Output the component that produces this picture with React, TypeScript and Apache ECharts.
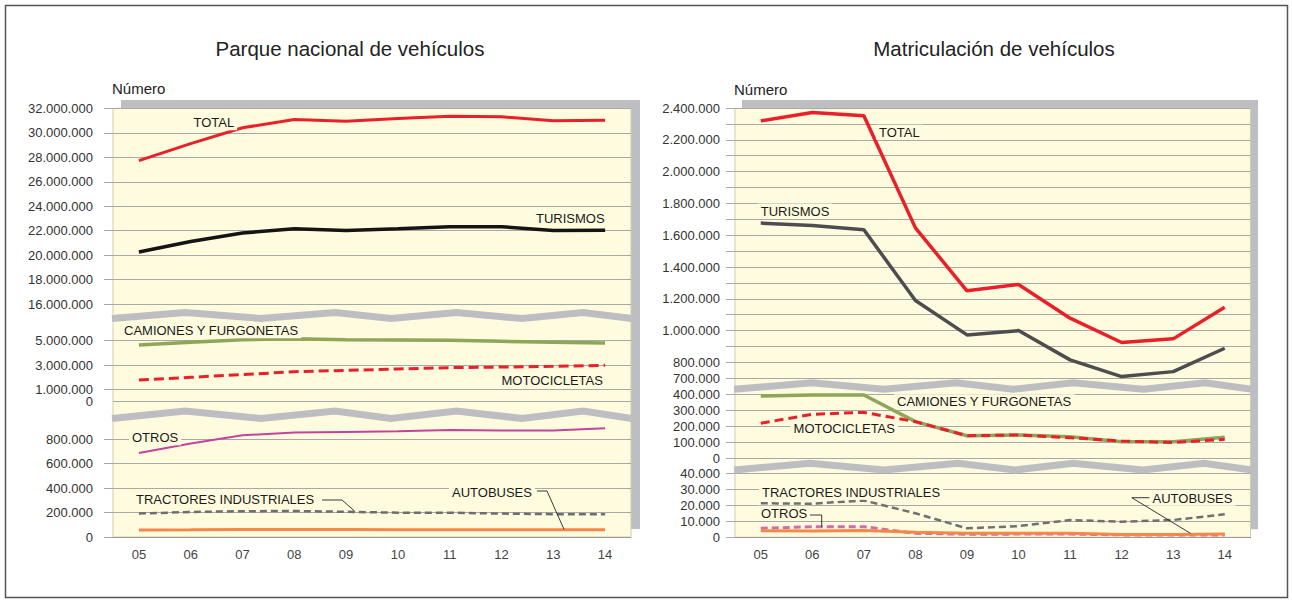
import React, { useEffect, useRef } from 'react';
import * as echarts from 'echarts';

// ---------- DATA ----------
const YEARS = ['05', '06', '07', '08', '09', '10', '11', '12', '13', '14'];

// Parque nacional de vehículos
const PARQUE_TOTAL = [27740000, 29130000, 30420000, 31100000, 30960000, 31180000, 31370000, 31320000, 31000000, 31040000];
const PARQUE_TURISMOS = [20250000, 21120000, 21810000, 22160000, 22020000, 22150000, 22330000, 22330000, 22020000, 22030000];
const PARQUE_CAMIONES = [4650000, 4870000, 5080000, 5160000, 5080000, 5060000, 5030000, 4950000, 4870000, 4810000];
const PARQUE_MOTOS = [1780000, 2000000, 2220000, 2460000, 2570000, 2680000, 2790000, 2840000, 2900000, 2980000];
const PARQUE_OTROS = [688000, 765000, 833000, 855000, 860000, 865000, 876000, 873000, 873000, 890000];
const PARQUE_TRACTORES = [192000, 205000, 211000, 213000, 206000, 199000, 199000, 192000, 187000, 187000];
const PARQUE_AUTOBUSES = [58000, 59000, 61000, 61000, 61000, 60000, 60000, 60000, 60000, 59000];

// Matriculación de vehículos
const MATRIC_TOTAL = [2319000, 2372000, 2351000, 1646000, 1250000, 1290000, 1078000, 925000, 948000, 1147000];
const MATRIC_TURISMOS = [1676000, 1661000, 1634000, 1189000, 973000, 1000000, 816000, 711000, 742000, 889000];
const MATRIC_CAMIONES = [389000, 396000, 396000, 229000, 141000, 146000, 135000, 104000, 104000, 131000];
const MATRIC_MOTOS = [219000, 275000, 287000, 229000, 141000, 146000, 129000, 108000, 98000, 119000];
const MATRIC_TRACTORES = [21300, 21000, 23000, 15000, 5600, 7000, 10800, 9700, 10800, 14400];
const MATRIC_OTROS = [5600, 6600, 6600, 2500, 1900, 2000, 2000, 1500, 1500, 1500];
const MATRIC_AUTOBUSES = [4100, 4000, 4200, 3200, 2500, 2500, 2600, 1800, 1800, 2000];

// Axis ticks
const PARQUE_MID_TICKS = [0, 1000000, 3000000, 5000000];
const PARQUE_MID_ZERO = [0];

// ---------- STYLE ----------
const FONT = "'Liberation Sans', Arial, Helvetica, sans-serif";
const GRID_C = '#a8a8a8';
const YELLOW = '#fffbdf';
const SHADOW = '#bdbec2';
const RED = '#e8202a';

const fmt = (v: number) => Math.round(v).toString().replace(/\B(?=(\d{3})+(?!\d))/g, '.');

const GRIDS = [
  { left: 113, width: 518, top: 108.5, height: 195.5 }, // L0 16M-32M
  { left: 113, width: 518, top: 340.7, height: 61 }, // L1 0-5M
  { left: 113, width: 518, top: 439.3, height: 97.7 }, // L2 0-800k
  { left: 735, width: 515.5, top: 108, height: 270.3 }, // R0 700k-2.4M
  { left: 735, width: 515.5, top: 394.3, height: 64 }, // R1 0-400k
  { left: 735, width: 515.5, top: 473.3, height: 64 }, // R2 0-40k
];

function yAxis(gi: number, min: number, max: number, interval: number | undefined, margin: number, extra: any = {}) {
  const ax: any = {
    type: 'value',
    gridIndex: gi,
    position: 'left',
    offset: 0,
    min,
    max,
    axisLine: { show: false },
    axisTick: { show: true, length: 9, lineStyle: { color: GRID_C, width: 1 } },
    axisLabel: {
      color: '#333',
      fontSize: 13,
      fontFamily: FONT,
      margin,
      formatter: fmt,
      hideOverlap: false,
      showMinLabel: true,
      showMaxLabel: true,
    },
    splitLine: { show: true, lineStyle: { color: GRID_C, width: 1 } },
  };
  if (interval !== undefined) ax.interval = interval;
  if (extra.axisLabel) ax.axisLabel = { ...ax.axisLabel, ...extra.axisLabel };
  if (extra.axisTick) ax.axisTick = { ...ax.axisTick, ...extra.axisTick };
  if (extra.splitLine) ax.splitLine = { ...ax.splitLine, ...extra.splitLine };
  return ax;
}

function xAxis(gi: number, visible: boolean) {
  if (!visible) return { type: 'category', gridIndex: gi, data: YEARS, boundaryGap: true, show: false };
  return {
    type: 'category',
    gridIndex: gi,
    data: YEARS,
    boundaryGap: true,
    axisLine: { show: true, lineStyle: { color: '#9a9a9a', width: 1 } },
    axisTick: { show: false },
    axisLabel: { color: '#444', fontSize: 13, fontFamily: FONT, margin: 11 },
    splitLine: { show: false },
  };
}

function line(name: string, data: number[], gi: number, color: string, width: number, dash?: number[]) {
  return {
    type: 'line',
    name,
    data,
    xAxisIndex: gi,
    yAxisIndex: gi,
    symbol: 'none',
    showSymbol: false,
    clip: false,
    silent: true,
    z: 3,
    lineStyle: { color, width, type: dash ? dash : 'solid', cap: 'butt' },
  };
}

function label(text: string, x: number, y: number, z = 20) {
  return {
    type: 'text',
    z,
    silent: true,
    style: {
      text,
      x: x - 3,
      y,
      fill: '#1a1a1a',
      font: `13px ${FONT}`,
      align: 'left',
      verticalAlign: 'middle',
      backgroundColor: YELLOW,
      padding: [1, 3, 1, 3],
    },
  };
}

function leader(points: number[][]) {
  return {
    type: 'polyline',
    z: 21,
    silent: true,
    shape: { points },
    style: { stroke: '#222', lineWidth: 0.9, fill: 'none' },
  };
}

function zigzag(points: number[][]) {
  return {
    type: 'polyline',
    z: 15,
    silent: true,
    shape: { points },
    style: { stroke: SHADOW, lineWidth: 7, fill: 'none', lineJoin: 'miter' },
  };
}

export default function App() {
  const ref = useRef<HTMLDivElement>(null);

  useEffect(() => {
    if (!ref.current) return;
    const chart = echarts.init(ref.current, undefined, { renderer: 'svg' });

    const option: any = {
      animation: false,
      backgroundColor: '#ffffff',
      textStyle: { fontFamily: FONT },
      grid: GRIDS.map((g) => ({ ...g, containLabel: false })),
      xAxis: [xAxis(0, false), xAxis(1, false), xAxis(2, true), xAxis(3, false), xAxis(4, false), xAxis(5, true)],
      yAxis: [
        yAxis(0, 16000000, 32000000, 2000000, 20),
        yAxis(1, 0, 5000000, undefined, 20, {
          axisLabel: { customValues: PARQUE_MID_TICKS, showMinLabel: false },
          axisTick: { customValues: PARQUE_MID_TICKS },
        }),
        yAxis(2, 0, 800000, 200000, 20),
        yAxis(3, 700000, 2400000, 100000, 15, {
          axisLabel: { formatter: (v: number) => (v % 200000 === 0 || v === 700000 ? fmt(v) : '') },
        }),
        yAxis(4, 0, 400000, 100000, 15),
        yAxis(5, 0, 40000, 10000, 15),
        // extra axis on the middle-left grid carrying only the "0" label
        yAxis(1, 0, 5000000, undefined, 20, {
          axisLabel: { customValues: PARQUE_MID_ZERO },
          axisTick: { customValues: PARQUE_MID_ZERO, show: false },
          splitLine: { show: false },
        }),
      ],
      series: [
        line('TOTAL', PARQUE_TOTAL, 0, RED, 3),
        line('TURISMOS', PARQUE_TURISMOS, 0, '#141414', 3.5),
        line('CAMIONES Y FURGONETAS', PARQUE_CAMIONES, 1, '#8fa55a', 3.5),
        line('MOTOCICLETAS', PARQUE_MOTOS, 1, RED, 3, [10, 5]),
        line('OTROS', PARQUE_OTROS, 2, '#c2459b', 2),
        line('TRACTORES INDUSTRIALES', PARQUE_TRACTORES, 2, '#6e6e6e', 2.5, [7, 4]),
        line('AUTOBUSES', PARQUE_AUTOBUSES, 2, '#f5874a', 3),

        line('TOTAL', MATRIC_TOTAL, 3, RED, 3.5),
        line('TURISMOS', MATRIC_TURISMOS, 3, '#4d4d4f', 3.5),
        line('CAMIONES Y FURGONETAS', MATRIC_CAMIONES, 4, '#8fa55a', 3.5),
        line('MOTOCICLETAS', MATRIC_MOTOS, 4, RED, 3, [9, 5]),
        line('TRACTORES INDUSTRIALES', MATRIC_TRACTORES, 5, '#707070', 2.5, [7, 4]),
        line('OTROS', MATRIC_OTROS, 5, '#cf6ea5', 3, [7, 4]),
        line('AUTOBUSES', MATRIC_AUTOBUSES, 5, '#f5874a', 3),
      ],
      graphic: [
        // outer frame
        { type: 'rect', z: -20, silent: true, shape: { x: 5.5, y: 5.5, width: 1282, height: 592 }, style: { fill: '#fff', stroke: '#555', lineWidth: 1.5 } },
        // shadows
        { type: 'rect', z: -10, silent: true, shape: { x: 121, y: 100, width: 519, height: 429 }, style: { fill: SHADOW } },
        { type: 'rect', z: -10, silent: true, shape: { x: 742, y: 100, width: 516, height: 429.3 }, style: { fill: SHADOW } },
        // plot backgrounds
        { type: 'rect', z: -5, silent: true, shape: { x: 113, y: 108.3, width: 518, height: 428.7 }, style: { fill: YELLOW, stroke: '#d2cdab', lineWidth: 1 } },
        { type: 'rect', z: -5, silent: true, shape: { x: 735, y: 108.3, width: 515.5, height: 429 }, style: { fill: YELLOW, stroke: '#d2cdab', lineWidth: 1 } },
        // titles
        { type: 'text', z: 20, silent: true, style: { text: 'Parque nacional de vehículos', x: 350, y: 48.5, fill: '#222', font: `20.5px ${FONT}`, align: 'center', verticalAlign: 'middle' } },
        { type: 'text', z: 20, silent: true, style: { text: 'Matriculación de vehículos', x: 994, y: 48.5, fill: '#222', font: `20.5px ${FONT}`, align: 'center', verticalAlign: 'middle' } },
        { type: 'text', z: 20, silent: true, style: { text: 'Número', x: 112, y: 88.5, fill: '#222', font: `15px ${FONT}`, align: 'left', verticalAlign: 'middle' } },
        { type: 'text', z: 20, silent: true, style: { text: 'Número', x: 734, y: 89, fill: '#222', font: `15px ${FONT}`, align: 'left', verticalAlign: 'middle' } },
        // zigzag breaks
        zigzag([[112, 318.5], [185, 312.5], [261, 318.5], [335, 312.5], [391, 318.5], [456.5, 312.5], [522, 318.5], [583, 312.5], [632, 318.5]]),
        zigzag([[112, 418.5], [185, 411], [261, 418.5], [335, 411], [391, 418.5], [456.5, 411], [522, 418.5], [583, 411], [632, 418.5]]),
        zigzag([[734, 389.3], [812, 382.7], [884, 389.3], [956, 382.7], [1013, 389.3], [1073, 382.7], [1143.5, 389.3], [1205, 382.7], [1252, 389.3]]),
        zigzag([[734, 470], [810, 463.3], [884, 470], [958, 463.3], [1015, 470], [1073, 463.3], [1143, 470], [1204, 463.3], [1252, 470]]),
        // left labels
        label('TOTAL', 193.5, 122.7),
        label('TURISMOS', 536, 218.3),
        label('CAMIONES Y FURGONETAS', 124, 330.7),
        label('MOTOCICLETAS', 501.5, 380),
        label('OTROS', 132, 437.7),
        label('TRACTORES INDUSTRIALES', 136, 499.3),
        label('AUTOBUSES', 452, 492),
        leader([[322, 500], [342, 500], [354.5, 511]]),
        leader([[537, 491], [547, 491], [564, 529.3]]),
        // right labels
        label('TOTAL', 879, 132.3),
        label('TURISMOS', 760.7, 211),
        label('CAMIONES Y FURGONETAS', 897, 401.7),
        label('MOTOCICLETAS', 793.6, 428.3),
        label('TRACTORES INDUSTRIALES', 762, 492.3),
        label('OTROS', 761, 513.3),
        label('AUTOBUSES', 1152.5, 498.3),
        leader([[810, 515], [821.7, 515], [821.7, 526.7]]),
        leader([[1149.4, 497.7], [1131.8, 497.7], [1190.4, 533.3]]),
      ],
    };

    chart.setOption(option);
    return () => chart.dispose();
  }, []);

  return (
    <div
      ref={ref}
      style={{ position: 'fixed', left: 0, top: 0, width: 1292, height: 604, background: '#fff' }}
    />
  );
}
